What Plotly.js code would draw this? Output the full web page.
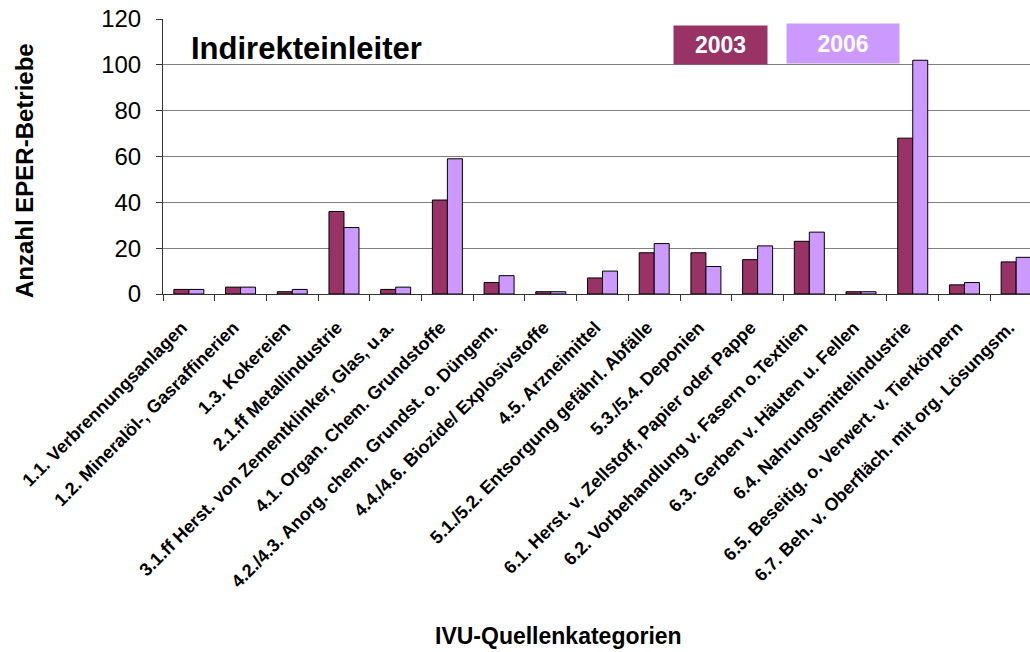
<!DOCTYPE html>
<html>
<head>
<meta charset="utf-8">
<script src="https://cdn.plot.ly/plotly-3.0.1.min.js"></script>
<style>
html,body{margin:0;padding:0;overflow:hidden;background:#fff;}
#chart{width:1045px;height:652px;}
</style>
</head>
<body>
<div id="chart"></div>
<script>
const categories = [
  "1.1. Verbrennungsanlagen",
  "1.2. Mineralöl-, Gasraffinerien",
  "1.3. Kokereien",
  "2.1.ff Metallindustrie",
  "3.1.ff Herst. von Zementklinker, Glas, u.a.",
  "4.1. Organ. Chem. Grundstoffe",
  "4.2./4.3. Anorg. chem. Grundst. o. Düngem.",
  "4.4./4.6. Biozide/ Explosivstoffe",
  "4.5. Arzneimittel",
  "5.1./5.2. Entsorgung gefährl. Abfälle",
  "5.3./5.4. Deponien",
  "6.1. Herst. v. Zellstoff, Papier oder Pappe",
  "6.2. Vorbehandlung v. Fasern o.Textlien",
  "6.3. Gerben v. Häuten u. Fellen",
  "6.4. Nahrungsmittelindustrie",
  "6.5. Beseitig. o. Verwert. v. Tierkörpern",
  "6.7. Beh. v. Oberfläch. mit org. Lösungsm."
];
const values2003 = [2, 3, 1, 36, 2, 41, 5, 1, 7, 18, 18, 15, 23, 1, 68, 4, 14];
const values2006 = [2, 3, 2, 29, 3, 59, 8, 1, 10, 22, 12, 21, 27, 1, 102, 5, 16];
const seriesNames = ["2003", "2006"];
const yTicks = [0, 20, 40, 60, 80, 100, 120];
const xTitle = "IVU-Quellenkategorien";
const yTitle = "Anzahl EPER-Betriebe";
const chartTitle = "Indirekteinleiter";

const W = 1045, H = 652;
const M = {l: 163, r: 3, t: 19, b: 358};
const pw = W - M.l - M.r, ph = H - M.t - M.b;
const px = x => (x - M.l) / pw;
const py = y => 1 - (y - M.t) / ph;

const colors = ["#993366", "#CC99FF"];
const FONT = "Liberation Sans, Arial, sans-serif";

const traces = [values2003, values2006].map((vals, i) => ({
  type: "bar",
  name: seriesNames[i],
  x: categories,
  y: vals,
  marker: {color: colors[i], line: {color: "#000", width: 1}},
  hoverinfo: "x+y+name"
}));

const layout = {
  width: W, height: H,
  margin: M,
  paper_bgcolor: "#fff", plot_bgcolor: "#fff",
  showlegend: false,
  barmode: "group",
  bargap: 0.42, bargroupgap: 0,
  font: {family: FONT, color: "#000"},
  title: {
    text: "<b>" + chartTitle + "</b>",
    font: {family: FONT, size: 31, color: "#000"},
    x: 191 / W, xanchor: "left", xref: "container",
    y: 1 - 48 / H, yanchor: "middle", yref: "container"
  },
  xaxis: {
    type: "category",
    tickangle: -45,
    tickson: "boundaries",
    ticks: "outside", ticklen: 6, tickcolor: "#333",
    tickfont: {family: FONT, size: 18, color: "#000", weight: "bold"},
    ticklabelstandoff: 15,
    ticklabelshift: -7,
    showline: true, linecolor: "#333", linewidth: 1,
    showgrid: false,
    automargin: false
  },
  yaxis: {
    range: [0, 120],
    tickvals: yTicks,
    ticks: "outside", ticklen: 6, tickcolor: "#333",
    tickfont: {family: FONT, size: 24, color: "#000"},
    ticklabelstandoff: 10,
    showline: true, linecolor: "#333", linewidth: 1,
    gridcolor: "#808080", gridwidth: 1,
    zeroline: false,
    automargin: false
  },
  annotations: [
    {
      text: "<b>" + xTitle + "</b>", showarrow: false,
      xref: "paper", yref: "paper",
      x: px(558), y: py(636), xanchor: "center", yanchor: "middle",
      font: {family: FONT, size: 23, color: "#000"}
    },
    {
      text: "<b>" + yTitle + "</b>", showarrow: false, textangle: -90,
      xref: "paper", yref: "paper",
      x: px(24), y: py(171), xanchor: "center", yanchor: "middle",
      font: {family: FONT, size: 24, color: "#000"}
    },
    {
      text: "<b>" + seriesNames[0] + "</b>", showarrow: false,
      xref: "paper", yref: "paper",
      x: px((675 + 766) / 2), y: py((27 + 63) / 2), xanchor: "center", yanchor: "middle",
      width: 91, height: 36, bgcolor: colors[0],
      font: {family: FONT, size: 23, color: "#fff"}
    },
    {
      text: "<b>" + seriesNames[1] + "</b>", showarrow: false,
      xref: "paper", yref: "paper",
      x: px((788 + 898) / 2), y: py((25 + 62) / 2), xanchor: "center", yanchor: "middle",
      width: 110, height: 37, bgcolor: colors[1],
      font: {family: FONT, size: 23, color: "#fff"}
    }
  ]
};

Plotly.newPlot("chart", traces, layout, {displayModeBar: false});
</script>
</body>
</html>
